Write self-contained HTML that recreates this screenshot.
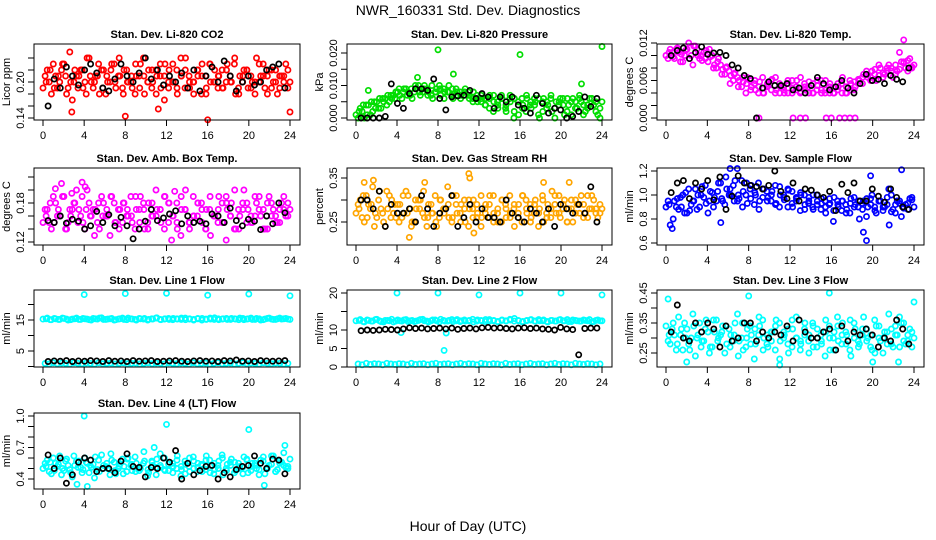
<!DOCTYPE html>
<html><head><meta charset="utf-8"><style>
body{margin:0;background:#fff}
svg{display:block;font-family:"Liberation Sans",sans-serif}
</style></head><body>
<svg id="chart" width="936" height="540" viewBox="0 0 936 540">
<rect x="0" y="0" width="936" height="540" fill="#fff"/>
<text x="468" y="15" text-anchor="middle" font-size="14">NWR_160331  Std. Dev. Diagnostics</text>
<text x="468" y="531" text-anchor="middle" font-size="14">Hour of Day (UTC)</text>
<g id="panels"></g>
</svg>
<script>
// ---- data ----
const hourTicks=[0,4,8,12,16,20,24];
// Panel 1 CO2
const co2A=[0.19,0.22,0.18,0.21,0.20,0.23,0.19,0.17,0.21,0.22,0.20,0.24,0.19,0.21,0.22,0.18,0.20,0.23,0.21,0.19,0.22,0.20,0.18,0.21,0.24,0.20,0.19,0.22,0.21,0.17,0.20,0.23,0.19,0.21,0.22,0.20,0.18,0.21,0.23,0.19,0.20,0.22,0.21,0.19,0.23,0.20,0.18,0.21,0.22,0.19,0.20,0.24,0.21,0.19,0.22,0.20,0.18,0.21,0.23,0.20];
const co2B=[0.21,0.20,0.23,0.19,0.22,0.21,0.25,0.20,0.19,0.22,0.18,0.21,0.20,0.23,0.19,0.21,0.22,0.20,0.24,0.18,0.20,0.21,0.23,0.19,0.21,0.20,0.22,0.18,0.23,0.21,0.19,0.20,0.22,0.24,0.19,0.21,0.20,0.22,0.18,0.21,0.23,0.20,0.19,0.22,0.20,0.21,0.23,0.19,0.20,0.22,0.21,0.18,0.20,0.23,0.21,0.19,0.22,0.21,0.20,0.19];
const co2C=[0.20,0.22,0.19,0.21,0.23,0.18,0.20,0.22,0.21,0.19,0.24,0.20,0.21,0.18,0.22,0.20,0.23,0.19,0.21,0.22,0.20,0.19,0.21,0.23,0.18,0.22,0.20,0.21,0.19,0.23,0.22,0.20,0.18,0.21,0.24,0.19,0.20,0.22,0.21,0.18,0.23,0.20,0.21,0.19,0.22,0.20,0.24,0.18,0.21,0.22,0.19,0.20,0.23,0.21,0.18,0.22,0.20,0.19,0.21,0.22];
const co2OutHours=[2.8,8,16,24,11.2];
const co2OutVals=[0.15,0.143,0.137,0.15,0.155];
const co2Black=[0.16,0.205,0.19,0.225,0.21,0.195,0.22,0.23,0.215,0.19,0.185,0.205,0.23,0.21,0.2,0.215,0.24,0.205,0.22,0.195,0.21,0.2,0.215,0.19,0.22,0.185,0.21,0.225,0.2,0.235,0.21,0.185,0.2,0.21,0.195,0.2,0.22,0.225,0.23,0.19];
// Panel 2 Pressure
const presA=[0.001,0.003,0.000,0.004,0.002,0.005,0.003,0.006,0.005,0.007,0.008,0.006,0.009,0.007,0.008,0.010,0.008,0.009,0.007,0.008,0.010,0.009,0.008,0.007,0.009,0.008,0.007,0.008,0.006,0.007,0.005,0.006,0.003,0.007,0.004,0.006,0.002,0.005,0.006,0.001,0.004,0.006,0.003,0.005,0.000,0.006,0.004,0.002,0.005,0.006,0.001,0.004,0.006,0.003,0.005,0.002,0.006,0.004,0.001,0.005];
const presB=[0.000,0.002,0.004,0.001,0.005,0.003,0.006,0.004,0.007,0.006,0.009,0.008,0.007,0.009,0.010,0.008,0.009,0.007,0.010,0.008,0.009,0.006,0.008,0.009,0.007,0.006,0.008,0.007,0.005,0.006,0.007,0.004,0.006,0.002,0.005,0.007,0.003,0.006,0.000,0.005,0.006,0.002,0.004,0.006,0.001,0.005,0.003,0.006,0.000,0.004,0.006,0.002,0.005,0.003,0.006,0.001,0.004,0.006,0.002,0.000];
const presC=[0.002,0.004,0.001,0.005,0.003,0.006,0.005,0.007,0.006,0.008,0.007,0.009,0.008,0.006,0.009,0.007,0.010,0.008,0.006,0.009,0.007,0.008,0.010,0.006,0.008,0.007,0.009,0.006,0.008,0.005,0.006,0.004,0.007,0.005,0.003,0.006,0.004,0.007,0.002,0.005,0.003,0.007,0.005,0.004,0.006,0.002,0.005,0.007,0.003,0.005,0.004,0.006,0.001,0.005,0.007,0.004,0.003,0.006,0.005,0.003];
const presOutHours=[8,16,24,9.5,22,6,1.2];
const presOutVals=[0.021,0.0195,0.022,0.0135,0.0105,0.0125,0.0085];
const presBlack=[0,0,0,0,0.0005,0.0105,0.0045,0.003,0.0075,0.009,0.009,0.0085,0.012,0.006,0.0025,0.0065,0.0068,0.007,0.0085,0.006,0.0075,0.0065,0.003,0.0065,0.005,0.0065,0.004,0.003,0.0015,0.007,0.0045,0.0015,0.003,0.0025,0.000,0.0005,0.002,0.0065,0.0035,0.006];
// Panel 3 Li-820 temp
const ltA=[0.0100,0.0110,0.0095,0.0105,0.0090,0.0110,0.0100,0.0115,0.0095,0.0105,0.0090,0.0100,0.0080,0.0085,0.0070,0.0075,0.0060,0.0065,0.0050,0.0040,0.0060,0.0055,0.0040,0.0065,0.0050,0.0060,0.0040,0.0055,0.0045,0.0060,0.0040,0.0050,0.0065,0.0045,0.0040,0.0055,0.0060,0.0040,0.0045,0.0055,0.0040,0.0050,0.0065,0.0040,0.0055,0.0050,0.0060,0.0070,0.0065,0.0075,0.0060,0.0080,0.0070,0.0085,0.0065,0.0075,0.0090,0.0080,0.0095,0.0085];
const ltB=[0.0095,0.0105,0.0110,0.0090,0.0100,0.0120,0.0085,0.0110,0.0100,0.0095,0.0110,0.0080,0.0090,0.0070,0.0080,0.0055,0.0070,0.0050,0.0065,0.0055,0.0045,0.0060,0.0050,0.0040,0.0055,0.0045,0.0065,0.0040,0.0050,0.0040,0.0060,0.0045,0.0040,0.0055,0.0050,0.0040,0.0045,0.0060,0.0040,0.0050,0.0040,0.0045,0.0055,0.0040,0.0060,0.0045,0.0055,0.0065,0.0075,0.0060,0.0070,0.0085,0.0065,0.0075,0.0080,0.0070,0.0105,0.0090,0.0075,0.0080];
const ltC=[0.0105,0.0098,0.0112,0.0102,0.0108,0.0095,0.0115,0.0100,0.0092,0.0108,0.0098,0.0085,0.0095,0.0078,0.0082,0.0068,0.0072,0.0060,0.0058,0.0065,0.0050,0.0045,0.0058,0.0040,0.0052,0.0062,0.0045,0.0050,0.0040,0.0055,0.0048,0.0060,0.0042,0.0050,0.0058,0.0040,0.0052,0.0045,0.0060,0.0040,0.0048,0.0055,0.0040,0.0050,0.0045,0.0058,0.0062,0.0055,0.0070,0.0065,0.0078,0.0068,0.0072,0.0080,0.0075,0.0085,0.0078,0.0088,0.0092,0.0082];
const ltOutHours=[9,12.3,13,13.5,15.5,16,16.8,17.3,17.8,18.3,23];
const ltOutVals=[0,0,0,0,0,0,0,0,0,0,0.0125];
const ltBlack=[0.0100,0.0108,0.0112,0.0095,0.0105,0.0114,0.0102,0.0104,0.0105,0.0100,0.0085,0.0080,0.0068,0.0063,0.0000,0.0048,0.0058,0.0052,0.0052,0.0055,0.0045,0.0048,0.0040,0.0052,0.0065,0.0055,0.0045,0.0050,0.0060,0.0048,0.0040,0.0055,0.0070,0.0060,0.0062,0.0055,0.0068,0.0062,0.0058,0.0080];
// Panel 4 Amb box temp
const abA=[0.15,0.17,0.14,0.18,0.16,0.19,0.15,0.17,0.20,0.16,0.14,0.18,0.17,0.15,0.19,0.16,0.13,0.18,0.17,0.15,0.16,0.19,0.14,0.17,0.18,0.15,0.16,0.20,0.17,0.14,0.18,0.16,0.15,0.19,0.17,0.14,0.16,0.18,0.15,0.17,0.13,0.16,0.19,0.15,0.17,0.18,0.14,0.16,0.20,0.17,0.15,0.18,0.16,0.14,0.19,0.17,0.15,0.18,0.16,0.17];
const abB=[0.17,0.15,0.19,0.16,0.21,0.14,0.17,0.18,0.15,0.19,0.17,0.16,0.13,0.18,0.16,0.17,0.19,0.15,0.14,0.18,0.17,0.16,0.19,0.15,0.17,0.14,0.18,0.16,0.17,0.19,0.15,0.16,0.18,0.13,0.17,0.15,0.19,0.16,0.18,0.14,0.17,0.16,0.15,0.18,0.19,0.16,0.14,0.17,0.18,0.15,0.16,0.19,0.17,0.14,0.18,0.16,0.15,0.17,0.19,0.16];
const abC=[0.16,0.18,0.15,0.17,0.19,0.14,0.16,0.18,0.17,0.15,0.20,0.16,0.17,0.14,0.18,0.16,0.19,0.15,0.17,0.18,0.16,0.15,0.17,0.19,0.14,0.18,0.16,0.17,0.15,0.19,0.18,0.16,0.14,0.17,0.20,0.15,0.16,0.18,0.17,0.14,0.19,0.16,0.17,0.15,0.18,0.16,0.20,0.14,0.17,0.18,0.15,0.16,0.19,0.17,0.14,0.18,0.16,0.15,0.17,0.18];
const abOutHours=[1.2,3.8,4.1,2.8,12.8,12.5,17.8];
const abOutVals=[0.202,0.212,0.205,0.195,0.198,0.123,0.123];
const abBlack=[0.153,0.150,0.160,0.149,0.155,0.152,0.140,0.145,0.167,0.150,0.162,0.145,0.158,0.145,0.125,0.140,0.152,0.170,0.153,0.157,0.163,0.168,0.148,0.160,0.150,0.152,0.148,0.163,0.160,0.150,0.172,0.153,0.145,0.155,0.152,0.139,0.160,0.148,0.180,0.165];
// Panel 5 Gas stream RH
const rhA=[0.27,0.30,0.25,0.29,0.33,0.26,0.28,0.24,0.31,0.27,0.29,0.26,0.32,0.28,0.25,0.30,0.27,0.24,0.29,0.31,0.26,0.28,0.33,0.25,0.29,0.27,0.30,0.24,0.28,0.26,0.31,0.27,0.29,0.25,0.28,0.30,0.26,0.27,0.24,0.29,0.31,0.27,0.26,0.30,0.28,0.25,0.29,0.32,0.27,0.26,0.30,0.28,0.25,0.29,0.31,0.27,0.28,0.30,0.26,0.28];
const rhB=[0.29,0.26,0.31,0.28,0.24,0.30,0.27,0.32,0.26,0.29,0.25,0.31,0.27,0.24,0.30,0.28,0.32,0.26,0.27,0.25,0.30,0.27,0.29,0.26,0.31,0.25,0.28,0.30,0.26,0.29,0.24,0.28,0.26,0.31,0.27,0.25,0.29,0.31,0.28,0.26,0.25,0.30,0.29,0.27,0.24,0.31,0.27,0.26,0.29,0.31,0.28,0.25,0.30,0.27,0.29,0.26,0.31,0.28,0.27,0.29];
const rhC=[0.28,0.31,0.26,0.29,0.27,0.32,0.25,0.28,0.30,0.26,0.29,0.27,0.31,0.25,0.28,0.30,0.26,0.29,0.27,0.24,0.30,0.28,0.26,0.31,0.27,0.29,0.25,0.28,0.30,0.27,0.26,0.29,0.31,0.27,0.25,0.30,0.28,0.26,0.29,0.27,0.31,0.28,0.25,0.29,0.27,0.30,0.26,0.28,0.31,0.27,0.29,0.25,0.28,0.30,0.27,0.29,0.26,0.31,0.28,0.27];
const rhOutHours=[0.8,1.7,6.7,11,11.1,5.2,11.5,18.3,20.8];
const rhOutVals=[0.34,0.345,0.34,0.36,0.35,0.215,0.225,0.34,0.34];
const rhBlack=[0.30,0.30,0.28,0.32,0.24,0.29,0.27,0.27,0.28,0.25,0.31,0.28,0.24,0.27,0.28,0.31,0.24,0.26,0.29,0.25,0.28,0.26,0.26,0.25,0.30,0.27,0.26,0.25,0.28,0.27,0.25,0.28,0.24,0.29,0.28,0.27,0.29,0.27,0.33,0.25];
// Panel 6 Sample flow
const sfA=[0.90,0.75,0.95,0.88,1.00,0.85,0.92,1.05,0.90,0.98,0.85,1.02,0.95,1.10,0.92,1.00,1.08,0.95,1.12,1.00,1.05,0.92,1.10,0.98,1.03,0.95,1.08,0.90,1.00,1.05,0.93,0.98,1.02,0.88,0.95,1.00,0.92,0.97,0.85,0.93,0.98,0.90,0.95,0.88,0.97,0.92,0.80,0.95,0.90,1.00,0.85,0.95,0.90,1.05,0.88,0.95,0.82,0.92,0.97,0.90];
const sfB=[0.95,0.72,0.90,0.98,0.85,1.05,0.95,0.88,1.00,1.08,0.95,0.90,1.03,0.97,1.15,1.05,0.95,1.00,0.90,1.10,0.97,1.02,0.88,1.05,0.95,1.00,0.92,1.07,0.98,0.90,1.03,0.95,0.87,1.00,0.93,0.90,1.00,0.88,0.95,0.92,0.78,0.95,0.87,0.92,0.85,0.98,0.90,0.93,0.82,0.97,0.90,0.95,0.87,0.92,1.00,0.85,0.93,0.90,0.88,0.98];
const sfC=[0.92,0.80,0.97,0.90,1.02,0.87,0.95,1.00,1.07,0.93,1.03,0.98,1.10,0.95,1.05,1.00,1.12,0.97,1.03,0.93,1.08,1.00,0.95,1.05,0.98,1.03,0.93,1.00,0.96,1.04,0.90,0.97,1.00,0.92,0.98,0.88,0.95,0.93,0.90,0.97,0.87,0.92,0.95,0.85,0.93,0.90,0.95,0.88,0.97,0.92,0.87,0.95,0.90,0.98,0.86,0.92,0.95,0.89,0.93,0.96];
const sfOutHours=[19.4,19.1,5.3,6.2,6.9,22.8,19.8,21.6];
const sfOutVals=[0.62,0.69,0.77,1.22,1.22,1.21,1.16,0.75];
const sfBlack=[1.02,1.10,1.12,0.97,1.10,1.05,1.12,0.96,1.15,0.88,0.99,1.16,1.10,1.08,1.07,1.05,1.08,1.20,1.03,0.97,1.10,0.95,1.05,1.04,1.00,0.98,1.03,0.87,1.09,1.02,1.10,0.95,0.95,1.05,0.99,0.94,1.05,0.98,0.90,0.88];
// Panel 7 Line 1 flow
const l1A=[15.3,15.6,15.1,15.4,15.2,15.5,15.0,15.3,15.6,15.2,15.4,15.1,15.5,15.3,15.7,15.2,15.4,15.0,15.3,15.6,15.1,15.4,15.2,15.5,15.3,15.0,15.4,15.6,15.2,15.3,15.5,15.1,15.4,15.2,15.6,15.3,15.0,15.4,15.5,15.2,15.3,15.7,15.1,15.4,15.2,15.5,15.3,15.6,15.1,15.4,15.2,15.5,15.0,15.3,15.6,15.2,15.4,15.3,15.5,15.2];
const l1B=[1.0,0.8,1.2,0.9,1.1,1.0,0.8,1.2,1.0,0.9,1.1,1.0,0.8,1.2,0.9,1.0,1.1,0.8,1.0,1.2,0.9,1.0,1.1,0.8,1.0,1.2,0.9,1.1,1.0,0.8,1.2,1.0,0.9,1.1,1.0,0.8,1.2,0.9,1.0,1.1,0.8,1.0,1.2,0.9,1.0,1.1,0.8,1.0,1.2,0.9,1.1,1.0,0.8,1.2,1.0,0.9,1.1,1.0,0.8,1.0];
const l1C=[15.4,15.1,15.5,15.2,15.6,15.3,15.1,15.4,15.2,15.5,15.3,15.0,15.4,15.6,15.2,15.3,15.5,15.1,15.4,15.2,15.6,15.3,15.0,15.4,15.5,15.2,15.3,15.7,15.1,15.4,15.2,15.5,15.3,15.6,15.1,15.4,15.2,15.5,15.0,15.3,15.6,15.2,15.4,15.3,15.5,15.2,15.4,15.1,15.5,15.3,15.6,15.2,15.4,15.1,15.5,15.3,15.2,15.6,15.4,15.3];
const l1OutHours=[4,8,12,16,20,24];
const l1OutVals=[23.2,23.5,23.6,23.0,23.4,22.8];
const l1Black=[1.6,1.8,1.7,1.9,1.6,1.8,1.7,1.9,1.8,1.6,1.9,1.7,1.8,1.6,1.9,1.7,1.8,1.9,1.6,1.7,1.8,1.9,1.7,1.6,1.8,1.9,1.7,1.8,1.6,1.9,1.8,2.1,1.7,1.8,1.6,1.9,1.8,1.7,1.8,1.9];
// Panel 8 Line 2 flow
const l2A=[12.5,12.8,12.2,12.6,12.4,12.9,12.3,12.6,12.5,12.2,12.7,12.4,12.8,12.5,12.3,12.6,12.9,12.4,12.5,12.7,12.2,12.6,12.4,12.8,12.5,12.3,12.7,12.5,12.9,12.4,12.6,12.3,12.8,12.5,12.2,12.6,12.4,12.7,13.1,12.5,12.3,12.6,12.8,12.4,12.5,12.7,12.2,12.6,12.4,12.8,12.5,12.3,12.7,12.5,12.4,12.6,12.8,12.3,12.7,12.5];
const l2B=[0.8,0.6,1.0,0.7,0.9,0.8,0.6,1.0,0.8,0.7,0.9,0.8,0.6,1.0,0.7,0.8,0.9,0.6,0.8,1.0,0.7,0.8,0.9,0.6,0.8,1.0,0.7,0.9,0.8,0.6,1.0,0.8,0.7,0.9,0.8,0.6,1.0,0.7,0.8,0.9,0.6,0.8,1.0,0.7,0.8,0.9,0.6,0.8,1.0,0.7,0.9,0.8,0.6,1.0,0.8,0.7,0.9,0.8,0.6,0.8];
const l2C=[12.6,12.3,12.7,12.4,12.8,12.5,12.2,12.6,12.9,12.4,12.5,12.7,12.3,12.6,12.4,12.8,12.5,12.2,12.7,12.5,12.9,12.4,12.6,12.3,12.8,12.5,12.4,12.6,12.2,12.7,12.5,12.8,12.4,12.6,12.3,12.7,12.5,12.9,12.4,12.6,12.2,12.5,12.7,12.4,12.8,12.5,12.3,12.6,12.4,12.7,12.5,12.8,12.3,12.6,12.4,12.7,12.5,12.2,12.6,12.5];
const l2OutHours=[4,8,12,16,20,24,8.6,8.8,4.4];
const l2OutVals=[20,20,19.5,20,20,19.5,4.5,9.2,9.3];
const l2Black=[9.8,10.0,9.9,10.0,10.2,10.1,10.0,10.3,10.6,10.4,10.5,10.3,10.4,10.5,10.3,10.5,10.2,10.4,10.5,10.3,10.6,10.7,10.5,10.6,10.4,10.3,10.5,10.6,10.4,10.5,10.3,10.2,10.0,10.7,10.3,10.1,3.3,10.4,10.5,10.5];
// Panel 9 Line 3 flow
const l3A=[0.34,0.28,0.31,0.37,0.26,0.33,0.30,0.24,0.35,0.29,0.32,0.27,0.36,0.31,0.25,0.33,0.29,0.38,0.30,0.27,0.34,0.23,0.31,0.36,0.28,0.32,0.26,0.35,0.30,0.33,0.27,0.37,0.29,0.31,0.25,0.34,0.30,0.28,0.36,0.26,0.32,0.29,0.35,0.31,0.24,0.33,0.28,0.37,0.30,0.26,0.34,0.29,0.32,0.38,0.27,0.31,0.35,0.28,0.33,0.30];
const l3B=[0.29,0.33,0.26,0.31,0.35,0.28,0.38,0.30,0.27,0.33,0.25,0.36,0.29,0.32,0.34,0.27,0.31,0.24,0.35,0.30,0.28,0.33,0.37,0.26,0.31,0.29,0.34,0.23,0.32,0.28,0.36,0.30,0.26,0.33,0.29,0.35,0.27,0.31,0.24,0.34,0.30,0.37,0.28,0.32,0.26,0.35,0.29,0.31,0.33,0.27,0.36,0.30,0.25,0.32,0.28,0.34,0.37,0.29,0.31,0.27];
const l3C=[0.31,0.35,0.28,0.33,0.30,0.26,0.34,0.31,0.29,0.36,0.27,0.32,0.30,0.34,0.28,0.31,0.35,0.29,0.26,0.33,0.31,0.28,0.34,0.30,0.27,0.32,0.36,0.29,0.31,0.25,0.33,0.30,0.28,0.35,0.31,0.27,0.33,0.29,0.32,0.30,0.26,0.34,0.31,0.28,0.36,0.30,0.27,0.33,0.29,0.31,0.25,0.34,0.30,0.28,0.33,0.31,0.27,0.35,0.29,0.32];
const l3OutHours=[0.2,8,15.8,24,20,22.5,2,11];
const l3OutVals=[0.43,0.44,0.45,0.42,0.22,0.22,0.22,0.21];
const l3Black=[0.32,0.41,0.30,0.29,0.35,0.32,0.35,0.33,0.27,0.34,0.29,0.30,0.35,0.35,0.29,0.32,0.30,0.32,0.31,0.34,0.29,0.36,0.32,0.30,0.30,0.32,0.33,0.26,0.34,0.29,0.32,0.31,0.33,0.31,0.27,0.30,0.29,0.36,0.33,0.28];
// Panel 10 Line 4 flow
const l4A=[0.50,0.58,0.45,0.55,0.62,0.48,0.53,0.42,0.57,0.51,0.60,0.46,0.54,0.49,0.63,0.52,0.44,0.56,0.50,0.59,0.47,0.53,0.61,0.48,0.55,0.43,0.57,0.51,0.64,0.49,0.54,0.46,0.58,0.52,0.45,0.60,0.50,0.55,0.47,0.62,0.53,0.49,0.57,0.44,0.54,0.59,0.48,0.52,0.61,0.46,0.55,0.50,0.58,0.45,0.53,0.62,0.49,0.56,0.51,0.59];
const l4B=[0.55,0.47,0.60,0.52,0.44,0.57,0.49,0.62,0.51,0.46,0.56,0.53,0.41,0.58,0.50,0.55,0.64,0.48,0.52,0.45,0.59,0.54,0.47,0.51,0.66,0.49,0.56,0.44,0.53,0.60,0.48,0.55,0.50,0.43,0.57,0.52,0.61,0.47,0.54,0.49,0.58,0.45,0.53,0.63,0.50,0.56,0.46,0.55,0.51,0.59,0.48,0.53,0.44,0.57,0.50,0.62,0.47,0.55,0.65,0.52];
const l4C=[0.52,0.56,0.48,0.54,0.50,0.59,0.46,0.53,0.57,0.49,0.55,0.51,0.61,0.47,0.53,0.50,0.58,0.45,0.54,0.52,0.60,0.48,0.55,0.50,0.57,0.46,0.53,0.59,0.51,0.48,0.56,0.52,0.62,0.49,0.54,0.47,0.57,0.51,0.53,0.58,0.46,0.55,0.50,0.60,0.48,0.53,0.56,0.50,0.45,0.58,0.52,0.55,0.49,0.61,0.51,0.54,0.47,0.57,0.53,0.50];
const l4OutHours=[4,12,20,23.5,4.3,3.3,21.5,10.8];
const l4OutVals=[1.0,0.92,0.87,0.72,0.33,0.35,0.34,0.70];
const l4Black=[0.63,0.50,0.60,0.36,0.44,0.56,0.60,0.58,0.47,0.50,0.50,0.46,0.57,0.64,0.52,0.51,0.42,0.51,0.50,0.60,0.56,0.67,0.40,0.55,0.44,0.48,0.52,0.53,0.40,0.46,0.42,0.49,0.52,0.53,0.62,0.55,0.50,0.59,0.58,0.45];

// tick values / labels
const p1Ticks=[0.14,0.16,0.18,0.20,0.22,0.24], p1Labels=["0.14","","","0.20","",""];
const p2Ticks=[0,0.005,0.01,0.015,0.02], p2Labels=["0.000","","0.010","","0.020"];
const p3Ticks=[0,0.002,0.004,0.006,0.008,0.010,0.012], p3Labels=["0.000","","","0.006","","","0.012"];
const p4Ticks=[0.12,0.14,0.16,0.18,0.20,0.22], p4Labels=["0.12","","","0.18","",""];
const p5Ticks=[0.25,0.30,0.35], p5Labels=["0.25","","0.35"];
const p6Ticks=[0.6,0.8,1.0,1.2], p6Labels=["0.6","0.8","1.0","1.2"];
const p7Ticks=[0,5,10,15,20], p7Labels=["","5","","15",""];
const p8Ticks=[0,5,10,15,20], p8Labels=["0","5","10","","20"];
const p9Ticks=[0.25,0.30,0.35,0.40,0.45], p9Labels=["0.25","","0.35","","0.45"];
const p10Ticks=[0.4,0.5,0.6,0.7,0.8,0.9,1.0], p10Labels=["0.4","","","0.7","","","1.0"];

// ---- layout (not data) ----
const NS="http://www.w3.org/2000/svg";
const cols=[[34,300],[347,612],[657,924]];
const rows=[[44,120],[168,245],[290,367],[413,489]];
const panels=[
 {name:"co2",title:"Stan. Dev. Li-820 CO2",yl:"Licor ppm",c:0,r:0,col:"#ff0000",A:co2A,B:co2B,C:co2C,oh:co2OutHours,ov:co2OutVals,K:co2Black,ref:[0.14,118,0.20,82],t:p1Ticks,tl:p1Labels},
 {name:"pressure",title:"Stan. Dev. Li-820 Pressure",yl:"kPa",c:1,r:0,col:"#00dd00",A:presA,B:presB,C:presC,oh:presOutHours,ov:presOutVals,K:presBlack,ref:[0,118,0.02,53],t:p2Ticks,tl:p2Labels},
 {name:"licor-temp",title:"Stan. Dev. Li-820 Temp.",yl:"degrees C",c:2,r:0,col:"#ff00ff",A:ltA,B:ltB,C:ltC,oh:ltOutHours,ov:ltOutVals,K:ltBlack,ref:[0,118,0.012,43],t:p3Ticks,tl:p3Labels},
 {name:"amb-box-temp",title:"Stan. Dev. Amb. Box Temp.",yl:"degrees C",c:0,r:1,col:"#ff00ff",A:abA,B:abB,C:abC,oh:abOutHours,ov:abOutVals,K:abBlack,ref:[0.12,242,0.18,203],t:p4Ticks,tl:p4Labels},
 {name:"gas-rh",title:"Stan. Dev. Gas Stream RH",yl:"percent",c:1,r:1,col:"#ffa500",A:rhA,B:rhB,C:rhC,oh:rhOutHours,ov:rhOutVals,K:rhBlack,ref:[0.25,222,0.35,178],t:p5Ticks,tl:p5Labels},
 {name:"sample-flow",title:"Stan. Dev. Sample Flow",yl:"ml/min",c:2,r:1,col:"#0000ff",A:sfA,B:sfB,C:sfC,oh:sfOutHours,ov:sfOutVals,K:sfBlack,ref:[0.6,243,1.2,171],t:p6Ticks,tl:p6Labels},
 {name:"line1-flow",title:"Stan. Dev. Line 1 Flow",yl:"ml/min",c:0,r:2,col:"#00ffff",A:l1A,B:l1B,C:l1C,oh:l1OutHours,ov:l1OutVals,K:l1Black,ref:[0,366.5,15,320],t:p7Ticks,tl:p7Labels},
 {name:"line2-flow",title:"Stan. Dev. Line 2 Flow",yl:"ml/min",c:1,r:2,col:"#00ffff",A:l2A,B:l2B,C:l2C,oh:l2OutHours,ov:l2OutVals,K:l2Black,ref:[0,367,20,293],t:p8Ticks,tl:p8Labels},
 {name:"line3-flow",title:"Stan. Dev. Line 3 Flow",yl:"ml/min",c:2,r:2,col:"#00ffff",A:l3A,B:l3B,C:l3C,oh:l3OutHours,ov:l3OutVals,K:l3Black,ref:[0.25,353,0.45,293],t:p9Ticks,tl:p9Labels},
 {name:"line4-flow",title:"Stan. Dev. Line 4 (LT) Flow",yl:"ml/min",c:0,r:3,col:"#00ffff",A:l4A,B:l4B,C:l4C,oh:l4OutHours,ov:l4OutVals,K:l4Black,ref:[0.4,479,1.0,416],t:p10Ticks,tl:p10Labels}
];
function mk(tag,attrs,parent){const e=document.createElementNS(NS,tag);for(const k in attrs)e.setAttribute(k,attrs[k]);parent.appendChild(e);return e;}
const root=document.getElementById('panels');
panels.forEach(p=>{
 const [L,R]=cols[p.c],[T,B]=rows[p.r];
 const g=mk('g',{},root);
 
 
 const xs=h=>(L+9)+h*((R-10)-(L+9))/24;
 const [v1,y1,v2,y2]=p.ref;
 const ys=v=>y1+(v-v1)*(y2-y1)/(v2-v1);
 const tt=mk('text',{x:(L+R)/2,y:T-6,'text-anchor':'middle','font-size':'11','font-weight':'bold'},g);
 tt.textContent=p.title;
 
 
 const pts=mk('g',{fill:'none','stroke-width':'1.7'},g);
 
 
 const dot=(h,v,c)=>{const e=mk('circle',{cx:xs(h).toFixed(1),cy:ys(v).toFixed(1),r:2.6,stroke:c},pts);
  
  };
 p.A.forEach((v,i)=>dot(i*24/(p.A.length-1),v,p.col));
 p.B.forEach((v,i)=>dot(0.2+i*23.6/(p.B.length-1),v,p.col));
 p.C.forEach((v,i)=>dot(0.3+i*23.5/(p.C.length-1),v,p.col));
 p.oh.forEach((h,i)=>dot(h,p.ov[i],p.col));
 p.K.forEach((v,i)=>dot(0.5+i*23/(p.K.length-1),v,'#000'));
 const box=mk('rect',{x:L,y:T,width:R-L,height:B-T,fill:'none',stroke:'#000','stroke-width':1},g);
 
 
 const ax=mk('g',{stroke:'#000','font-size':'11'},g);
 
 
 hourTicks.forEach(h=>{const x=xs(h);mk('line',{x1:x,x2:x,y1:B,y2:B+6},ax);
  const t=mk('text',{x:x,y:B+19,'text-anchor':'middle',stroke:'none',fill:'#000'},ax);t.textContent=h;
  
  });
 p.t.forEach((v,i)=>{const y=ys(v);mk('line',{x1:L-6,x2:L,y1:y,y2:y},ax);
  if(p.tl[i]){const t=mk('text',{x:L-10,y:y,'text-anchor':'middle',stroke:'none',fill:'#000',transform:`rotate(-90 ${L-10} ${y})`},ax);t.textContent=p.tl[i];
  
  }});
 const yt=mk('text',{x:L-24,y:(T+B)/2,'text-anchor':'middle','font-size':'11',transform:`rotate(-90 ${L-24} ${(T+B)/2})`},g);
 yt.textContent=p.yl;
 
 
});
</script>
</body></html>
